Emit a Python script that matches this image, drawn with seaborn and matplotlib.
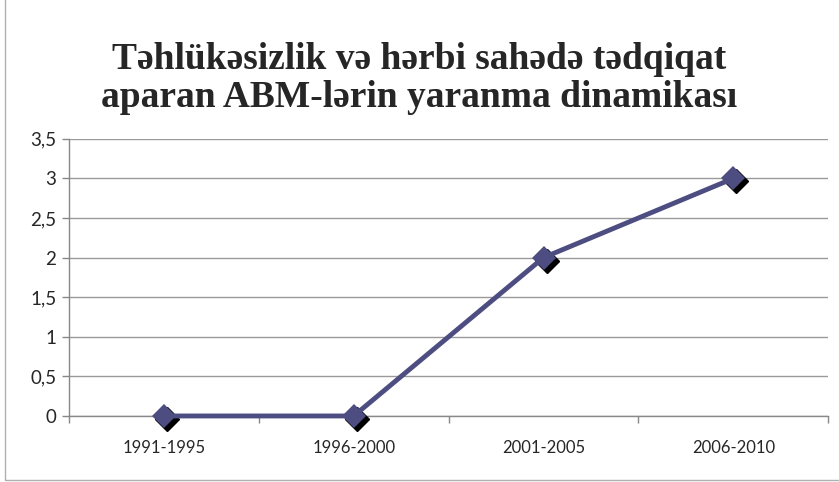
import matplotlib
matplotlib.use("Agg")
import matplotlib.pyplot as plt
import matplotlib.transforms as mtransforms
from matplotlib.patches import Rectangle
import seaborn as sns
import pandas as pd
import numpy as np

periods = ["1991-1995", "1996-2000", "2001-2005", "2006-2010"]
counts = [0, 0, 2, 3]
y_ticks = [0, 0.5, 1, 1.5, 2, 2.5, 3, 3.5]
y_labels = ["0", "0,5", "1", "1,5", "2", "2,5", "3", "3,5"]
title = "Təhlükəsizlik və hərbi sahədə tədqiqat\naparan ABM-lərin yaranma dinamikası"

sns.set_style("white")
plt.rcParams["font.family"] = ["Lato", "DejaVu Sans"]

df = pd.DataFrame({"period": periods, "count": counts})
df["x"] = np.arange(len(periods))

fig = plt.figure(figsize=(8.39, 4.82), dpi=100)
ax = fig.add_axes([0.0822, 0.137, 0.905, 0.575])

line_color = "#4d4d82"
shadow = mtransforms.offset_copy(ax.transData, fig=fig, x=3, y=-3, units="dots")
ax.plot(df["x"], df["count"], linestyle="none", marker="D", markersize=12,
        color="black", transform=shadow, zorder=3, clip_on=False)
sns.lineplot(data=df, x="x", y="count", ax=ax, color=line_color, linewidth=3.5,
             marker="D", markersize=12, markeredgewidth=0, zorder=4, clip_on=False)

ax.set_xlim(-0.5, len(periods) - 0.5)
ax.set_ylim(0, 3.5)
ax.set_yticks(y_ticks)
ax.set_yticklabels(y_labels, fontsize=13.5)
ax.set_xticks(df["x"])
ax.set_xticklabels(periods, fontsize=12)
ax.set_xticks(np.arange(len(periods) + 1) - 0.5, minor=True)
ax.tick_params(axis="x", which="major", length=0, pad=17)
ax.tick_params(axis="x", which="minor", length=5, color="#888888", width=1, bottom=True)
ax.tick_params(axis="y", length=5, color="#888888", width=1, left=True, pad=4)
ax.set_xlabel("")
ax.set_ylabel("")
ax.yaxis.grid(True, color="#9a9a9a", linewidth=1)
for s in ["top", "right"]:
    ax.spines[s].set_visible(False)
for s in ["left", "bottom"]:
    ax.spines[s].set_color("#888888")
    ax.spines[s].set_linewidth(1)

fig.text(0.5, 0.837, title, ha="center", va="center", fontsize=27, fontweight="bold",
         family=["Liberation Serif", "DejaVu Serif"], linespacing=1.08)

fig.patches.append(Rectangle((0.006, 0.004), 1.2, 1.2, transform=fig.transFigure,
                             fill=False, edgecolor="#b0b0b0", linewidth=1))

fig.savefig("out.png", dpi=100)
plt.close()
